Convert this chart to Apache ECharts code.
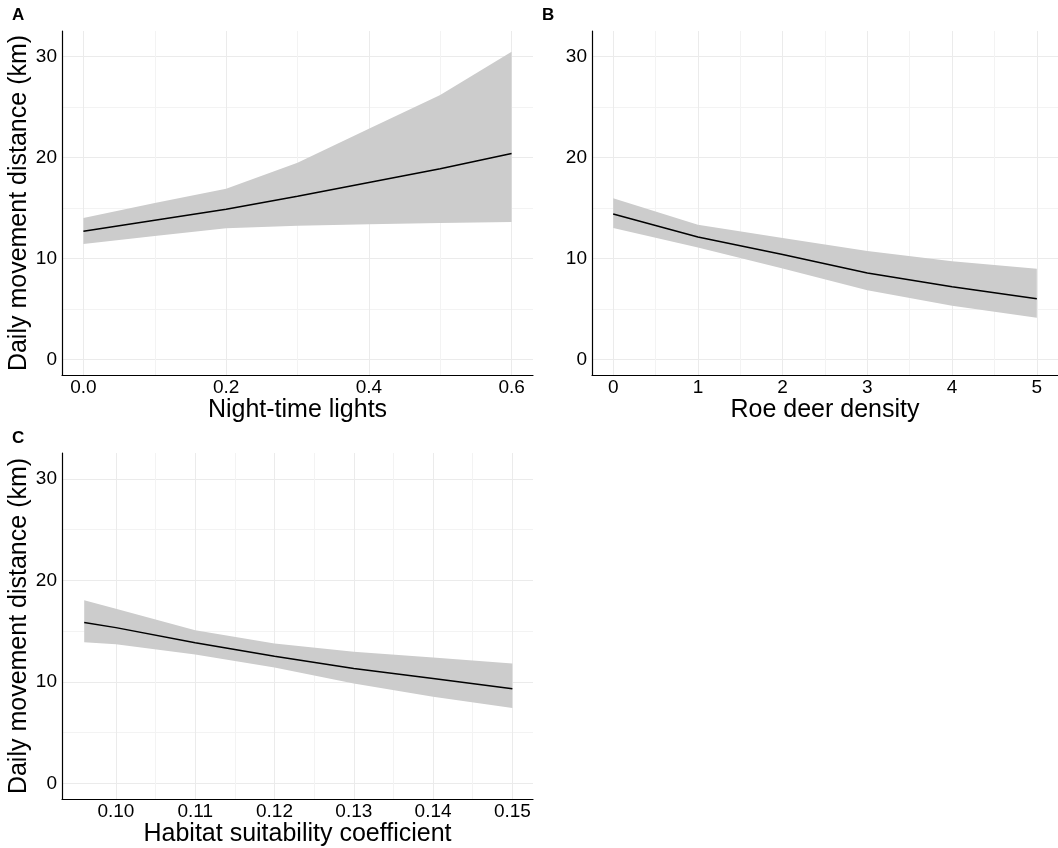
<!DOCTYPE html>
<html><head><meta charset="utf-8">
<script src="https://cdn.jsdelivr.net/npm/echarts@6/dist/echarts.min.js"></script>
<style>html,body{margin:0;padding:0;background:#fff}#c{width:1058px;height:848px}</style>
</head><body><div id="c"></div>
<script>
// ---- Data ----
const yTitle = 'Daily movement distance (km)';
const yMajorTicks = [0, 10, 20, 30];
const yMinorTicks = [5, 15, 25];

// Panel A: Night-time lights
const aTitle = 'Night-time lights';
const aX = [0, 0.1, 0.2, 0.3, 0.4, 0.5, 0.6];
const aFit = [12.69, 13.78, 14.87, 16.16, 17.54, 18.89, 20.41];
const aLower = [11.44, 12.23, 12.99, 13.25, 13.39, 13.52, 13.62];
const aUpper = [14.01, 15.50, 16.91, 19.49, 22.85, 26.21, 30.50];
const aMajorTicks = [0, 0.2, 0.4, 0.6];
const aMinorTicks = [0.1, 0.3, 0.5];

// Panel B: Roe deer density
const bTitle = 'Roe deer density';
const bX = [0, 1, 2, 3, 4, 5];
const bFit = [14.41, 12.13, 10.39, 8.57, 7.19, 6.00];
const bLower = [13.02, 11.08, 9.00, 6.86, 5.31, 4.12];
const bUpper = [15.96, 13.35, 12.03, 10.75, 9.73, 8.97];
const bMajorTicks = [0, 1, 2, 3, 4, 5];
const bMinorTicks = [0.5, 1.5, 2.5, 3.5, 4.5];

// Panel C: Habitat suitability coefficient
const cTitle = 'Habitat suitability coefficient';
const cX = [0.096, 0.10, 0.11, 0.12, 0.13, 0.14, 0.15];
const cFit = [15.84, 15.34, 13.84, 12.52, 11.31, 10.33, 9.31];
const cLower = [13.90, 13.70, 12.69, 11.41, 9.84, 8.52, 7.41];
const cUpper = [18.03, 17.21, 15.08, 13.77, 12.95, 12.39, 11.80];
const cMajorTicks = [0.10, 0.11, 0.12, 0.13, 0.14, 0.15];
const cMinorTicks = [0.105, 0.115, 0.125, 0.135, 0.145];

// ---- Chart ----
const FONT = '"Liberation Sans", Arial, sans-serif';
const chart = echarts.init(document.getElementById('c'), null, {renderer: 'canvas'});

const grids = [
  {left: 62, top: 31, width: 471, height: 344},
  {left: 592, top: 31, width: 471, height: 344},
  {left: 62, top: 453, width: 471, height: 346}
];
const yMin = -1.55, yMax = 32.55;
const xRanges = [[-0.03, 0.63], [-0.25, 5.25], [0.0932, 0.1526]];
const xMajor = [aMajorTicks, bMajorTicks, cMajorTicks];
const xMinor = [aMinorTicks, bMinorTicks, cMinorTicks];
const xDec = [1, 0, 2];
const xTitles = [aTitle, bTitle, cTitle];
const yTitles = [yTitle, '', yTitle];

const xAxes = [], yAxes = [];
for (let i = 0; i < 3; i++) {
  xAxes.push({
    type: 'value', gridIndex: i, min: xRanges[i][0], max: xRanges[i][1],
    name: xTitles[i], nameLocation: 'middle', nameGap: 20,
    nameTextStyle: {fontFamily: FONT, fontSize: 25, color: '#000'},
    axisLine: {show: true, onZero: false, lineStyle: {color: '#000', width: 1.2}},
    axisTick: {show: false, customValues: xMajor[i]},
    axisLabel: {show: true, customValues: xMajor[i], margin: 3, fontFamily: FONT, fontSize: 19, color: '#000',
      formatter: (v => ((d) => Number(d).toFixed(v)))(xDec[i])},
    splitLine: {show: true, lineStyle: {color: '#EBEBEB', width: 1}},
    minorSplitLine: {show: false}
  });
  yAxes.push({
    type: 'value', gridIndex: i, min: yMin, max: yMax,
    name: yTitles[i], nameLocation: 'middle', nameGap: 23, nameRotate: 90,
    nameTextStyle: {fontFamily: FONT, fontSize: 25, color: '#000'},
    axisLine: {show: true, onZero: false, lineStyle: {color: '#000', width: 1.2}},
    axisTick: {show: false, customValues: yMajorTicks},
    axisLabel: {show: true, customValues: yMajorTicks, margin: 5, fontFamily: FONT, fontSize: 19, color: '#000'},
    splitLine: {show: true, lineStyle: {color: '#EBEBEB', width: 1}}
  });
}
// minor grid axes
for (let i = 0; i < 3; i++) {
  xAxes.push({
    type: 'value', gridIndex: i, min: xRanges[i][0], max: xRanges[i][1], position: 'bottom',
    axisLine: {show: false}, axisTick: {show: false, customValues: xMinor[i]},
    axisLabel: {show: false, customValues: xMinor[i]},
    splitLine: {show: true, lineStyle: {color: '#F3F3F3', width: 1}}
  });
  yAxes.push({
    type: 'value', gridIndex: i, min: yMin, max: yMax, position: 'left',
    axisLine: {show: false}, axisTick: {show: false, customValues: yMinorTicks},
    axisLabel: {show: false, customValues: yMinorTicks},
    splitLine: {show: true, lineStyle: {color: '#F3F3F3', width: 1}}
  });
}

const panels = [
  [aX, aFit, aLower, aUpper],
  [bX, bFit, bLower, bUpper],
  [cX, cFit, cLower, cUpper]
];
const series = [];
panels.forEach(([xs, fit, lo, up], i) => {
  series.push({
    type: 'custom', xAxisIndex: i, yAxisIndex: i, silent: true, z: 2,
    data: xs.map((x, k) => [x, lo[k], up[k]]),
    encode: {x: 0, y: [1, 2]},
    renderItem: function (params, api) {
      if (params.dataIndex !== 0) return;
      const pts = [];
      for (let k = 0; k < xs.length; k++) pts.push(api.coord([xs[k], up[k]]));
      for (let k = xs.length - 1; k >= 0; k--) pts.push(api.coord([xs[k], lo[k]]));
      return {type: 'polygon', shape: {points: pts}, style: {fill: '#CCCCCC'}};
    }
  });
  series.push({
    type: 'line', xAxisIndex: i, yAxisIndex: i, symbol: 'none', silent: true,
    data: xs.map((x, k) => [x, fit[k]]),
    lineStyle: {color: '#000', width: 1.5}, z: 3
  });
});

chart.setOption({
  animation: false,
  backgroundColor: '#fff',
  grid: grids,
  xAxis: xAxes,
  yAxis: yAxes,
  series: series,
  graphic: [
    {type: 'text', left: 12, top: 7, style: {text: 'A', fontFamily: FONT, fontWeight: 'bold', fontSize: 17, fill: '#000'}},
    {type: 'text', left: 542, top: 7, style: {text: 'B', fontFamily: FONT, fontWeight: 'bold', fontSize: 17, fill: '#000'}},
    {type: 'text', left: 12, top: 430, style: {text: 'C', fontFamily: FONT, fontWeight: 'bold', fontSize: 17, fill: '#000'}}
  ]
});
</script></body></html>
